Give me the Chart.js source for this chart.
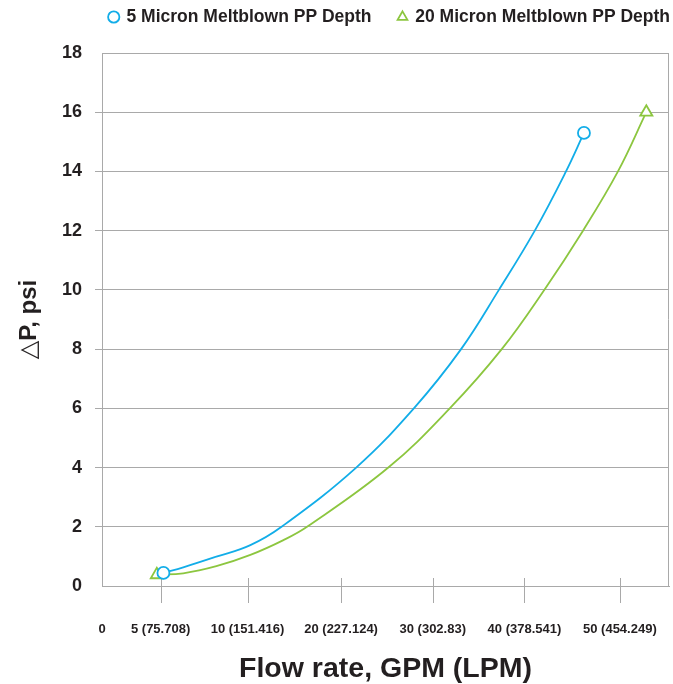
<!DOCTYPE html>
<html>
<head>
<meta charset="utf-8">
<script src="https://cdn.jsdelivr.net/npm/chart.js@4.4.1/dist/chart.umd.min.js"></script>
<style>
  html, body { margin: 0; padding: 0; background: #fff; }
  #wrap { width: 673px; height: 684px; position: relative; }
</style>
</head>
<body>
<div id="wrap"><canvas id="c" width="673" height="684"></canvas></div>
<script>
// ---- data ----
const seriesNames = ['5 Micron Meltblown PP Depth', '20 Micron Meltblown PP Depth'];
// x-axis tick labels and their positions along the (position-unit) x axis
const xTickLabels = ['0', '5 (75.708)', '10 (151.416)', '20 (227.124)', '30 (302.83)', '40 (378.541)', '50 (454.249)'];
const xTickPositions = [0, 6.2, 15.4, 25.3, 35.0, 44.7, 54.8];
const yTicksMax = 18;
// 5 micron curve
const x5 = [6.5, 8.6, 12.1, 15.7, 19.0, 26.9, 33.0, 38.0, 42.0, 45.8, 49.1, 51.0];
const y5 = [0.44, 0.63, 0.99, 1.38, 2, 4, 6, 8, 10, 12, 14, 15.3];
// 20 micron curve
const x20 = [5.8, 8.6, 12.1, 15.7, 19.2, 21.7, 30.3, 36.8, 42.3, 46.8, 50.9, 54.6, 57.6];
const y20 = [0.38, 0.43, 0.67, 1.05, 1.55, 2, 4, 6, 8, 10, 12, 14, 16];

const blue = '#12ade8';
const green = '#8cc63f';
const gridColor = '#a9a9a9';
const textColor = '#231f20';
const fam = "'Liberation Sans', Arial, Helvetica, sans-serif";

const pts = (xs, ys) => xs.map((x, i) => ({ x: x, y: ys[i] }));
const endsOnly = (r) => (ctx) => (ctx.dataIndex === 0 || ctx.dataIndex === ctx.dataset.data.length - 1) ? r : 0;

const legendFix = {
  id: 'legendFix',
  beforeInit(chart) {
    const orig = chart.legend.fit;
    chart.legend.fit = function () { orig.call(this); this.height = 53; };
  },
  afterLayout(chart) {
    const L = chart.legend;
    const dx = 697 - L.right, dy = -18.75;
    L.left += dx; L.right += dx; L.top += dy; L.bottom += dy;
  }
};

// right frame edge + x tick marks (crossing the axis line)
const frame = {
  id: 'frame',
  beforeDatasetsDraw(chart) {
    const { ctx, chartArea: a, scales: { x } } = chart;
    ctx.save();
    ctx.strokeStyle = gridColor;
    ctx.lineWidth = 1;
    ctx.beginPath();
    const r = Math.round(a.right) - 0.5;
    ctx.moveTo(r, a.top); ctx.lineTo(r, a.bottom);
    x.ticks.forEach((t, i) => {
      if (i === 0) return;
      const px = Math.round(x.getPixelForValue(t.value)) + 0.5;
      ctx.moveTo(px, a.bottom - 8); ctx.lineTo(px, a.bottom + 17);
    });
    ctx.stroke();
    ctx.restore();
  }
};

new Chart(document.getElementById('c'), {
  type: 'line',
  data: {
    datasets: [
      {
        label: seriesNames[0],
        data: pts(x5, y5),
        borderColor: blue,
        backgroundColor: '#ffffff',
        borderWidth: 1.8,
        pointStyle: 'circle',
        pointRadius: endsOnly(6),
        pointBorderWidth: 1.8,
        pointBackgroundColor: '#ffffff',
        pointBorderColor: blue,
        tension: 0.4,
        fill: false
      },
      {
        label: seriesNames[1],
        data: pts(x20, y20),
        borderColor: green,
        backgroundColor: '#ffffff',
        borderWidth: 1.8,
        pointStyle: 'triangle',
        pointRadius: endsOnly(7),
        pointBorderWidth: 1.8,
        pointBackgroundColor: '#ffffff',
        pointBorderColor: green,
        tension: 0.4,
        fill: false
      }
    ]
  },
  options: {
    responsive: false,
    animation: false,
    devicePixelRatio: 1,
    layout: { autoPadding: false, padding: { left: 0, right: 4, top: 0, bottom: 0 } },
    plugins: {
      tooltip: { enabled: false },
      legend: {
        position: 'top',
        align: 'end',
        labels: {
          usePointStyle: true,
          boxWidth: 8,
          boxHeight: 8,
          padding: 27,
          color: textColor,
          font: { family: fam, size: 17.5, weight: 'bold' }
        }
      }
    },
    scales: {
      x: {
        type: 'linear',
        min: 0,
        max: 60,
        afterBuildTicks(scale) { scale.ticks = xTickPositions.map(v => ({ value: v })); },
        afterFit(scale) { scale.height = 98; },
        ticks: {
          autoSkip: false,
          maxRotation: 0,
          padding: 0,
          color: textColor,
          font: { family: fam, size: 13, weight: 'bold' },
          callback(value, index) { return xTickLabels[index]; }
        },
        grid: {
          drawOnChartArea: false,
          drawTicks: true,
          tickLength: 36,
          color: 'rgba(0,0,0,0)',
          tickColor: 'rgba(0,0,0,0)',
          lineWidth: 1
        },
        border: { display: true, color: gridColor, width: 1 },
        title: {
          display: true,
          text: 'Flow rate, GPM (LPM)',
          color: textColor,
          font: { family: fam, size: 28.5, weight: 'bold', lineHeight: 1 },
          padding: { top: 0, bottom: 1 }
        }
      },
      y: {
        min: 0,
        max: yTicksMax,
        afterFit(scale) { scale.width = 102; },
        ticks: {
          stepSize: 2,
          padding: 13,
          color: textColor,
          font: { family: fam, size: 18, weight: 'bold' }
        },
        grid: {
          color: gridColor,
          lineWidth: 1,
          tickLength: 7,
          tickColor: (c) => (c.tick && (c.tick.value === 0 || c.tick.value === yTicksMax)) ? 'rgba(0,0,0,0)' : gridColor
        },
        border: { display: true, color: gridColor, width: 1 },
        title: {
          display: true,
          text: '\u25B3P, psi',
          color: textColor,
          font: { family: fam + ", 'DejaVu Sans'", size: 24, weight: 'bold', lineHeight: 1 },
          padding: { top: 17, bottom: 0 }
        }
      }
    }
  },
  plugins: [legendFix, frame]
});
</script>
</body>
</html>
